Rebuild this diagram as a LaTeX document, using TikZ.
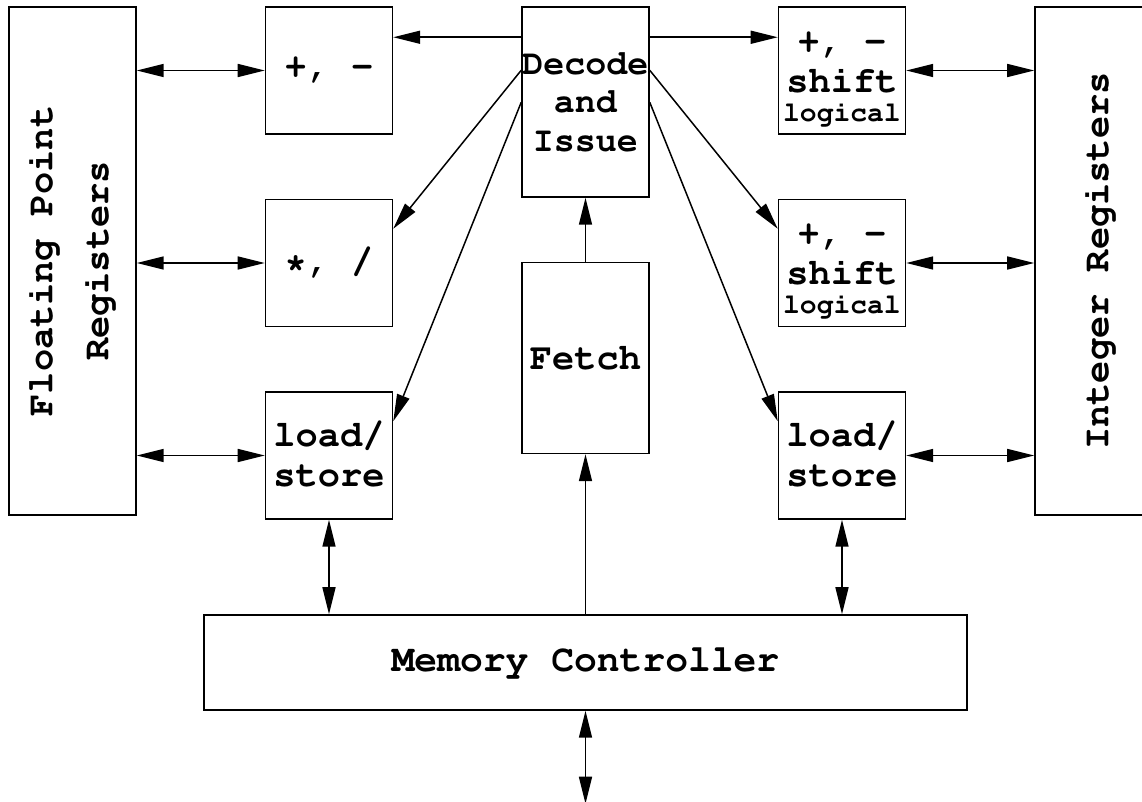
\documentclass[tikz,border=0pt]{standalone}
\usepackage[T1]{fontenc}
\renewcommand{\ttdefault}{pcr}
\usetikzlibrary{positioning,arrows.meta}

\begin{document}
\begin{tikzpicture}[>={Triangle[length=13.5pt,width=6.5pt]}, line width=0.75pt, node distance=32pt and 64pt,
	unit/.style={draw, minimum width=63.5pt, minimum height=63.5pt, inner sep=0pt, align=center,
		font=\ttfamily\bfseries\fontsize{18.5}{20}\selectfont},
	regfile/.style={unit, minimum height=254pt}]
	\useasboundingbox (-292.75pt,51pt) rectangle (278.25pt,-350pt);

	% issue and fetch
	\node[unit, minimum height=95pt, font=\ttfamily\bfseries\fontsize{17.5}{19.25}\selectfont] (decode) {Decode\\and\\Issue};
	\node[unit, minimum height=95.5pt, below=of decode] (fetch) {Fetch};

	% floating point side
	\node[unit, left=of decode.north west, anchor=north east] (fpadd) {+, -};
	\node[unit, below=of fpadd] (fpmul) {*, /};
	\node[unit, below=of fpmul] (fpls) {load/\\store};
	\node[regfile, left=of fpadd.north west, anchor=north east] (fpreg)
		{\rotatebox{90}{\begin{tabular}{@{}c@{}}Floating Point\\[8pt]Registers\end{tabular}}};

	% integer side
	\node[unit, right=of decode.north east, anchor=north west] (intalu) {\rule{0pt}{18pt}+, -\\shift\\[-5.5pt]{\fontsize{14}{14}\selectfont logical}};
	\node[unit, below=of intalu] (intalub) {\rule{0pt}{18pt}+, -\\shift\\[-5.5pt]{\fontsize{14}{14}\selectfont logical}};
	\node[unit, below=of intalub] (intls) {load/\\store};
	\node[regfile, right=of intalu.north east, anchor=north west] (intreg)
		{\rotatebox{90}{Integer Registers}};

	\node[unit, minimum width=381.5pt, minimum height=47.5pt, font=\ttfamily\bfseries\fontsize{19}{20}\selectfont,
		below=80pt of fetch] (mem) {Memory Controller};
	\coordinate[below=46.5pt of mem.south] (ext);

	% register files
	\draw[<->] (fpadd.west -| fpreg.east) -- (fpadd.west);
	\draw[<->] (fpmul.west -| fpreg.east) -- (fpmul.west);
	\draw[<->] (fpls.west -| fpreg.east) -- (fpls.west);
	\draw[<->] (intalu.east) -- (intalu.east -| intreg.west);
	\draw[<->] (intalub.east) -- (intalub.east -| intreg.west);
	\draw[<->] (intls.east) -- (intls.east -| intreg.west);

	% issue
	\draw[->] ([yshift=-15.5pt]decode.north west) -- ([yshift=-15.5pt]fpadd.north east);
	\draw[->] ([yshift=-32pt]decode.north west) -- ([yshift=-15pt]fpmul.north east);
	\draw[->] ([yshift=-48pt]decode.north west) -- ([yshift=-15pt]fpls.north east);
	\draw[->] ([yshift=-15.5pt]decode.north east) -- ([yshift=-15.5pt]intalu.north west);
	\draw[->] ([yshift=-32pt]decode.north east) -- ([yshift=-15pt]intalub.north west);
	\draw[->] ([yshift=-48pt]decode.north east) -- ([yshift=-15pt]intls.north west);

	% memory
	\draw[<->] (fpls.south) -- (fpls.south |- mem.north);
	\draw[<->] (intls.south) -- (intls.south |- mem.north);
	\draw[->] (mem.north) -- (fetch.south);
	\draw[->] (fetch.north) -- (decode.south);
	\draw[<->] (mem.south) -- (ext);
\end{tikzpicture}
\end{document}
